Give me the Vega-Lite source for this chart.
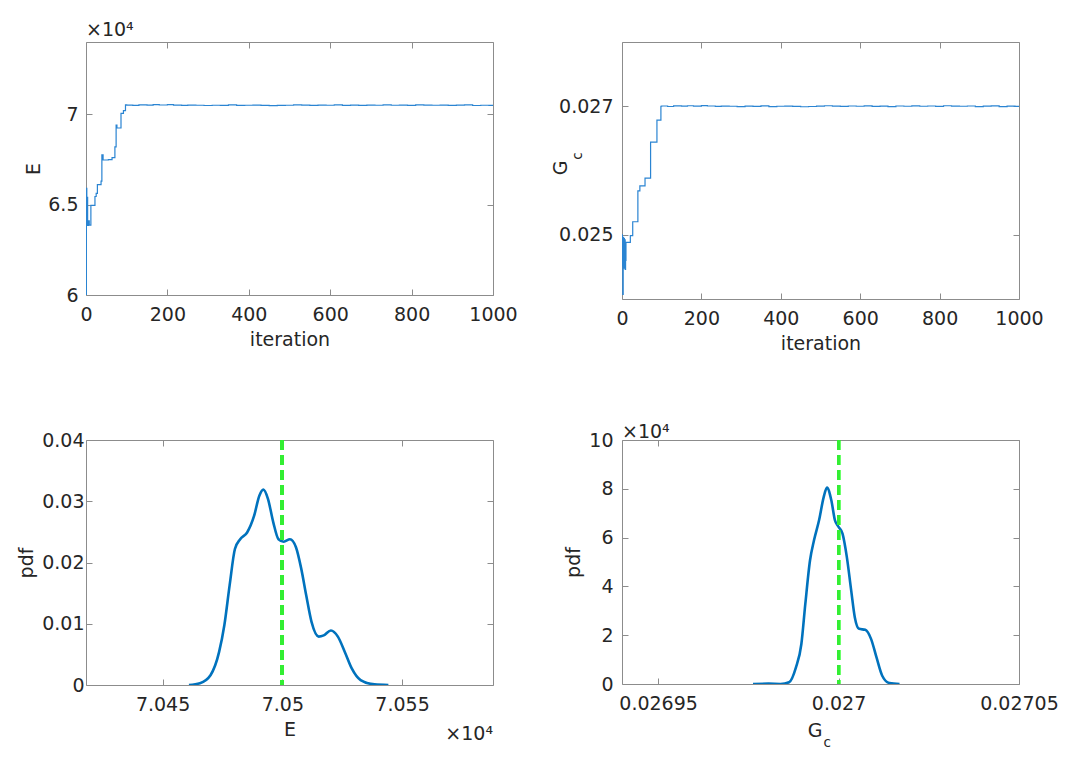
{
  "$schema": "https://vega.github.io/schema/vega-lite/v6.json",
  "background": "white",
  "padding": {"left": 17, "top": 20, "right": 5, "bottom": 5},
  "config": {
    "font": "DejaVu Sans",
    "view": {"stroke": "#8c8c8c", "strokeWidth": 1},
    "axis": {
      "grid": false, "domain": false,
      "tickColor": "#8c8c8c", "tickSize": -6, "tickWidth": 1,
      "labelFontSize": 19, "titleFontSize": 19,
      "labelColor": "#262626", "titleColor": "#262626", "titleFontWeight": "normal",
      "labelPadding": 16, "titlePadding": 6,
      "labelExpr": "format(datum.value, '~g')",
      "labelFlush": false, "labelOverlap": false
    },
    "title": {"fontSize": 19, "fontWeight": "normal", "color": "#262626", "anchor": "start", "frame": "group"}
  },
  "datasets": {
    "traceE": [
      {"iteration": 0, "E": 60000}, {"iteration": 1, "E": 65900}, {"iteration": 2, "E": 64300},
      {"iteration": 3, "E": 65400}, {"iteration": 4, "E": 63850}, {"iteration": 6, "E": 64100},
      {"iteration": 8, "E": 63870}, {"iteration": 12, "E": 64960}, {"iteration": 22, "E": 65450},
      {"iteration": 25, "E": 65620}, {"iteration": 28, "E": 66110}, {"iteration": 37, "E": 66300},
      {"iteration": 39, "E": 67750}, {"iteration": 42, "E": 67470}, {"iteration": 55, "E": 67490},
      {"iteration": 64, "E": 67600}, {"iteration": 71, "E": 68200}, {"iteration": 74, "E": 69400},
      {"iteration": 76, "E": 69240}, {"iteration": 86, "E": 70050}, {"iteration": 92, "E": 70200},
      {"iteration": 97, "E": 70520},
      {"iteration": 100, "E": 70510}, {"iteration": 115, "E": 70495}, {"iteration": 130, "E": 70520},
      {"iteration": 150, "E": 70505}, {"iteration": 165, "E": 70530}, {"iteration": 180, "E": 70515},
      {"iteration": 200, "E": 70535}, {"iteration": 215, "E": 70510}, {"iteration": 235, "E": 70490},
      {"iteration": 250, "E": 70505}, {"iteration": 270, "E": 70500}, {"iteration": 290, "E": 70485},
      {"iteration": 310, "E": 70500}, {"iteration": 330, "E": 70495}, {"iteration": 350, "E": 70520},
      {"iteration": 370, "E": 70490}, {"iteration": 390, "E": 70500}, {"iteration": 410, "E": 70505},
      {"iteration": 430, "E": 70495}, {"iteration": 450, "E": 70480}, {"iteration": 470, "E": 70490},
      {"iteration": 490, "E": 70500}, {"iteration": 510, "E": 70525}, {"iteration": 530, "E": 70505},
      {"iteration": 550, "E": 70495}, {"iteration": 570, "E": 70510}, {"iteration": 590, "E": 70500},
      {"iteration": 610, "E": 70520}, {"iteration": 630, "E": 70495}, {"iteration": 650, "E": 70505},
      {"iteration": 670, "E": 70490}, {"iteration": 690, "E": 70510}, {"iteration": 710, "E": 70500},
      {"iteration": 730, "E": 70520}, {"iteration": 750, "E": 70500}, {"iteration": 770, "E": 70510},
      {"iteration": 790, "E": 70495}, {"iteration": 810, "E": 70525}, {"iteration": 830, "E": 70505},
      {"iteration": 850, "E": 70500}, {"iteration": 870, "E": 70510}, {"iteration": 890, "E": 70490},
      {"iteration": 910, "E": 70505}, {"iteration": 930, "E": 70520}, {"iteration": 950, "E": 70485},
      {"iteration": 970, "E": 70500}, {"iteration": 990, "E": 70495}, {"iteration": 1000, "E": 70500}
    ],
    "traceG": [
      {"iteration": 0, "Gc": 0.02500}, {"iteration": 1, "Gc": 0.02452}, {"iteration": 2, "Gc": 0.02407},
      {"iteration": 3, "Gc": 0.02496}, {"iteration": 4, "Gc": 0.02448}, {"iteration": 5, "Gc": 0.02494},
      {"iteration": 6, "Gc": 0.02458}, {"iteration": 7, "Gc": 0.02492}, {"iteration": 8, "Gc": 0.02446},
      {"iteration": 9, "Gc": 0.02460}, {"iteration": 10, "Gc": 0.024882}, {"iteration": 21, "Gc": 0.024985},
      {"iteration": 27, "Gc": 0.025202}, {"iteration": 40, "Gc": 0.025682}, {"iteration": 45, "Gc": 0.02576},
      {"iteration": 58, "Gc": 0.02588}, {"iteration": 72, "Gc": 0.026442}, {"iteration": 88, "Gc": 0.026783},
      {"iteration": 98, "Gc": 0.027},
      {"iteration": 100, "Gc": 0.027004}, {"iteration": 115, "Gc": 0.026996}, {"iteration": 130, "Gc": 0.027006},
      {"iteration": 150, "Gc": 0.027002}, {"iteration": 165, "Gc": 0.027008}, {"iteration": 180, "Gc": 0.027003},
      {"iteration": 200, "Gc": 0.027009}, {"iteration": 215, "Gc": 0.027004}, {"iteration": 235, "Gc": 0.026998},
      {"iteration": 250, "Gc": 0.027002}, {"iteration": 270, "Gc": 0.027}, {"iteration": 290, "Gc": 0.026994},
      {"iteration": 310, "Gc": 0.027001}, {"iteration": 330, "Gc": 0.026998}, {"iteration": 350, "Gc": 0.027006},
      {"iteration": 370, "Gc": 0.026995}, {"iteration": 390, "Gc": 0.027}, {"iteration": 410, "Gc": 0.027003},
      {"iteration": 430, "Gc": 0.026998}, {"iteration": 450, "Gc": 0.026992}, {"iteration": 470, "Gc": 0.026996},
      {"iteration": 490, "Gc": 0.027001}, {"iteration": 510, "Gc": 0.027008}, {"iteration": 530, "Gc": 0.027002},
      {"iteration": 550, "Gc": 0.026997}, {"iteration": 570, "Gc": 0.027004}, {"iteration": 590, "Gc": 0.027},
      {"iteration": 610, "Gc": 0.027007}, {"iteration": 630, "Gc": 0.026997}, {"iteration": 650, "Gc": 0.027002},
      {"iteration": 670, "Gc": 0.026995}, {"iteration": 690, "Gc": 0.027004}, {"iteration": 710, "Gc": 0.027},
      {"iteration": 730, "Gc": 0.027007}, {"iteration": 750, "Gc": 0.027}, {"iteration": 770, "Gc": 0.027004},
      {"iteration": 790, "Gc": 0.026997}, {"iteration": 810, "Gc": 0.027008}, {"iteration": 830, "Gc": 0.027002},
      {"iteration": 850, "Gc": 0.027}, {"iteration": 870, "Gc": 0.027004}, {"iteration": 890, "Gc": 0.026995},
      {"iteration": 910, "Gc": 0.027002}, {"iteration": 930, "Gc": 0.027006}, {"iteration": 950, "Gc": 0.026994},
      {"iteration": 970, "Gc": 0.027001}, {"iteration": 990, "Gc": 0.026998}, {"iteration": 1000, "Gc": 0.027}
    ],
    "pdfE": [
      {"E": 70461, "pdf": 0}, {"E": 70465.6, "pdf": 0.0003}, {"E": 70470, "pdf": 0.0016},
      {"E": 70473.6, "pdf": 0.0054}, {"E": 70475.8, "pdf": 0.0098}, {"E": 70478, "pdf": 0.0163},
      {"E": 70480.2, "pdf": 0.0222}, {"E": 70482.4, "pdf": 0.0238}, {"E": 70485.3, "pdf": 0.0249},
      {"E": 70488.2, "pdf": 0.0276}, {"E": 70490.4, "pdf": 0.0309}, {"E": 70492.1, "pdf": 0.0319},
      {"E": 70494, "pdf": 0.0304}, {"E": 70496.2, "pdf": 0.0266}, {"E": 70498.4, "pdf": 0.0238},
      {"E": 70500.6, "pdf": 0.0234}, {"E": 70503.2, "pdf": 0.0238}, {"E": 70505.7, "pdf": 0.0225},
      {"E": 70507.9, "pdf": 0.019}, {"E": 70510, "pdf": 0.0146}, {"E": 70512.2, "pdf": 0.0103},
      {"E": 70515.2, "pdf": 0.0079}, {"E": 70517.3, "pdf": 0.0081}, {"E": 70520.3, "pdf": 0.0089},
      {"E": 70523.2, "pdf": 0.0079}, {"E": 70526.1, "pdf": 0.0054}, {"E": 70529, "pdf": 0.0027},
      {"E": 70532.7, "pdf": 0.0008}, {"E": 70538.5, "pdf": 0.0001}, {"E": 70544.3, "pdf": 0}
    ],
    "pdfG": [
      {"Gc": 0.0269763, "pdf": 0}, {"Gc": 0.0269806, "pdf": 150}, {"Gc": 0.0269839, "pdf": 20},
      {"Gc": 0.0269863, "pdf": 700}, {"Gc": 0.0269882, "pdf": 6800}, {"Gc": 0.0269897, "pdf": 16400},
      {"Gc": 0.0269908, "pdf": 32900}, {"Gc": 0.0269921, "pdf": 50700}, {"Gc": 0.0269932, "pdf": 58900},
      {"Gc": 0.0269946, "pdf": 67100}, {"Gc": 0.0269959, "pdf": 76700}, {"Gc": 0.0269968, "pdf": 80500},
      {"Gc": 0.026998, "pdf": 75300}, {"Gc": 0.026999, "pdf": 67100}, {"Gc": 0.027, "pdf": 64400},
      {"Gc": 0.0270011, "pdf": 61600}, {"Gc": 0.0270023, "pdf": 52000}, {"Gc": 0.0270035, "pdf": 38400},
      {"Gc": 0.0270045, "pdf": 27400}, {"Gc": 0.0270057, "pdf": 22600}, {"Gc": 0.0270074, "pdf": 22200},
      {"Gc": 0.027009, "pdf": 18500}, {"Gc": 0.0270105, "pdf": 11000}, {"Gc": 0.0270121, "pdf": 3400},
      {"Gc": 0.0270141, "pdf": 400}, {"Gc": 0.0270169, "pdf": 0}
    ]
  },
  "columns": 2,
  "bounds": "flush",
  "spacing": {"row": 141, "column": 129},
  "concat": [
    {
      "width": 407, "height": 253,
      "title": {"text": "×10⁴", "offset": 2},
      "data": {"name": "traceE"},
      "layer": [
        {
          "mark": {"type": "line", "interpolate": "step-after", "color": "#2a84d2", "strokeWidth": 1.2, "clip": true},
          "encoding": {
            "x": {"field": "iteration", "type": "quantitative", "scale": {"domain": [0, 1000], "nice": false},
                  "axis": {"orient": "bottom", "title": "iteration", "values": [0, 200, 400, 600, 800, 1000]}},
            "y": {"field": "E", "type": "quantitative", "scale": {"domain": [60000, 74000], "nice": false},
                  "axis": {"orient": "left", "title": "E", "values": [60000, 65000, 70000],
                           "labelExpr": "format(datum.value / 10000, '~g')", "labelPadding": 14, "titlePadding": 4}}
          }
        },
        {
          "mark": {"type": "point", "opacity": 0},
          "encoding": {
            "x": {"field": "iteration", "type": "quantitative", "scale": {"domain": [0, 1000], "nice": false},
                  "axis": {"orient": "top", "labels": false, "title": null, "values": [0, 200, 400, 600, 800, 1000]}},
            "y": {"field": "E", "type": "quantitative", "scale": {"domain": [60000, 74000], "nice": false},
                  "axis": {"orient": "right", "labels": false, "title": null, "values": [60000, 65000, 70000]}}
          }
        }
      ]
    },
    {
      "width": 397, "height": 257,
      "data": {"name": "traceG"},
      "layer": [
        {
          "mark": {"type": "line", "interpolate": "step-after", "color": "#2a84d2", "strokeWidth": 1.2, "clip": true},
          "encoding": {
            "x": {"field": "iteration", "type": "quantitative", "scale": {"domain": [0, 1000], "nice": false},
                  "axis": {"orient": "bottom", "title": "iteration", "values": [0, 200, 400, 600, 800, 1000]}},
            "y": {"field": "Gc", "type": "quantitative", "scale": {"domain": [0.024, 0.028], "nice": false},
                  "axis": {"orient": "left", "title": "G", "values": [0.025, 0.027], "labelPadding": 15,
                           "titleAngle": 270, "titleAlign": "center", "titleBaseline": "alphabetic",
                           "titleX": -56, "titleY": 125.5}}
          }
        },
        {
          "mark": {"type": "point", "opacity": 0},
          "encoding": {
            "x": {"field": "iteration", "type": "quantitative", "scale": {"domain": [0, 1000], "nice": false},
                  "axis": {"orient": "top", "labels": false, "title": null, "values": [0, 200, 400, 600, 800, 1000]}},
            "y": {"field": "Gc", "type": "quantitative", "scale": {"domain": [0.024, 0.028], "nice": false},
                  "axis": {"orient": "right", "labels": false, "title": "c", "values": [0.025, 0.027],
                           "titleFontSize": 13.5, "titleAngle": 270, "titleAlign": "center", "titleBaseline": "alphabetic",
                           "titleX": -438, "titleY": 113.5}}
          }
        }
      ]
    },
    {
      "width": 407, "height": 245,
      "title": {"text": "×10⁴", "orient": "bottom", "anchor": "end", "offset": -14},
      "data": {"name": "pdfE"},
      "layer": [
        {
          "mark": {"type": "line", "interpolate": "monotone", "color": "#0072BD", "strokeWidth": 2.6, "clip": true},
          "encoding": {
            "x": {"field": "E", "type": "quantitative", "scale": {"domain": [70418, 70588], "nice": false},
                  "axis": {"orient": "bottom", "title": "E", "values": [70450, 70500, 70550],
                           "labelExpr": "format(datum.value / 10000, '~g')"}},
            "y": {"field": "pdf", "type": "quantitative", "scale": {"domain": [0, 0.04], "nice": false},
                  "axis": {"orient": "left", "title": "pdf", "values": [0, 0.01, 0.02, 0.03, 0.04],
                           "labelPadding": 8, "titlePadding": 5}}
          }
        },
        {
          "mark": {"type": "rule", "color": "#33ee33", "strokeWidth": 3, "strokeDash": [10, 5]},
          "encoding": {"x": {"datum": 70500, "type": "quantitative", "axis": null}}
        },
        {
          "mark": {"type": "point", "opacity": 0},
          "encoding": {
            "x": {"field": "E", "type": "quantitative", "scale": {"domain": [70418, 70588], "nice": false},
                  "axis": {"orient": "top", "labels": false, "title": null, "values": [70450, 70500, 70550]}},
            "y": {"field": "pdf", "type": "quantitative", "scale": {"domain": [0, 0.04], "nice": false},
                  "axis": {"orient": "right", "labels": false, "title": null, "values": [0, 0.01, 0.02, 0.03, 0.04]}}
          }
        }
      ]
    },
    {
      "width": 397, "height": 244,
      "title": {"text": "×10⁴", "offset": -11},
      "data": {"name": "pdfG"},
      "layer": [
        {
          "mark": {"type": "line", "interpolate": "monotone", "color": "#0072BD", "strokeWidth": 2.6, "clip": true},
          "encoding": {
            "x": {"field": "Gc", "type": "quantitative", "scale": {"domain": [0.02694, 0.02705], "nice": false},
                  "axis": {"orient": "bottom", "title": "G", "values": [0.02695, 0.027, 0.02705],
                           "titleAlign": "center", "titleBaseline": "alphabetic", "titleX": 192.5, "titleY": 52}},
            "y": {"field": "pdf", "type": "quantitative", "scale": {"domain": [0, 100000], "nice": false},
                  "axis": {"orient": "left", "title": "pdf", "values": [0, 20000, 40000, 60000, 80000, 100000],
                           "labelExpr": "format(datum.value / 10000, '~g')", "labelPadding": 15, "titlePadding": 5}}
          }
        },
        {
          "mark": {"type": "rule", "color": "#33ee33", "strokeWidth": 3, "strokeDash": [10, 5]},
          "encoding": {"x": {"datum": 0.027, "type": "quantitative", "axis": null}}
        },
        {
          "mark": {"type": "point", "opacity": 0},
          "encoding": {
            "x": {"field": "Gc", "type": "quantitative", "scale": {"domain": [0.02694, 0.02705], "nice": false},
                  "axis": {"orient": "top", "labels": false, "title": "c", "values": [0.02695, 0.027, 0.02705],
                           "titleFontSize": 13.5, "titleAlign": "left", "titleBaseline": "alphabetic",
                           "titleX": 201, "titleY": 306}},
            "y": {"field": "pdf", "type": "quantitative", "scale": {"domain": [0, 100000], "nice": false},
                  "axis": {"orient": "right", "labels": false, "title": null, "values": [0, 20000, 40000, 60000, 80000, 100000]}}
          }
        }
      ]
    }
  ]
}
